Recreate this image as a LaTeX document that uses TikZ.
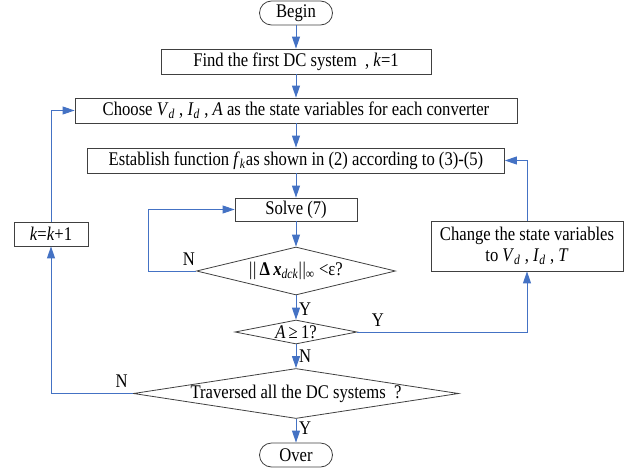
\documentclass[tikz,border=0pt]{standalone}
\usepackage{fontspec}
\setmainfont{Liberation Serif}[FakeStretch=0.86]
\usetikzlibrary{positioning, shapes.geometric, arrows.meta}
\usepackage{xcolor}
\definecolor{flowblue}{HTML}{4472C4}
\definecolor{flowgray}{HTML}{404040}

\begin{document}
\begin{tikzpicture}[x=0.75pt, y=-0.75pt, font=\fontsize{14.5}{16}\selectfont,
    box/.style={draw=flowgray, line width=0.6pt, inner sep=0pt, align=center},
    term/.style={box, rounded corners=9pt, minimum width=54.75pt, minimum height=18pt},
    decide/.style={draw=flowgray, line width=0.6pt, diamond, inner sep=0pt},
    flow/.style={flowblue, line width=0.7pt, -{Triangle[length=9pt, width=6pt]}},
    lab/.style={text=black, inner sep=2pt}]
  \useasboundingbox (0,0) rectangle (638,471);
  % main column
  \node[term] (begin) at (296,13) {Begin};
  \node[box, minimum width=202.5pt, minimum height=18.75pt] (find) at (296,61.5)
    {Find the first DC system\ \ , \textit{k}=1};
  \node[box, minimum width=331.5pt, minimum height=18.75pt] (choose) at (296,110.5)
    {Choose \textit{V}\textsubscript{\textit{d}} , \textit{I}\textsubscript{\textit{d}} , \textit{A} as the state variables for each converter};
  \node[box, minimum width=312.75pt, minimum height=18.75pt] (establish) at (296,160.5)
    {Establish function \textit{f}\textsubscript{\textit{k}}as shown in (2) according to (3)-(5)};
  \node[box, minimum width=91.5pt, minimum height=17.25pt] (solve) at (296,209.5) {Solve (7)};
  \node[decide, aspect=4.15, minimum width=149.25pt, minimum height=36pt] (conv) at (296,271)
    {\textbar\kern0.5pt\textbar\,\textbf{Δ}\,\textbf{\textit{x}}\textsubscript{\textit{dck}}\textbar\kern0.5pt\textbar\textsubscript{∞}\ <ε?};
  \node[decide, aspect=5.1, minimum width=91.5pt, minimum height=18pt] (alim) at (296,332)
    {\textit{A}\,≥\,1?};
  \node[decide, aspect=6.5, minimum width=237.75pt, minimum height=36.75pt] (trav) at (296,393.5)
    {Traversed all the DC systems\ \ ?};
  \node[term] (over) at (296,455) {Over};
  % side boxes
  \node[box, minimum width=55.5pt, minimum height=18pt] (knext) at (51,234)
    {\textit{k}=\textit{k}+1};
  \node[box, minimum width=144pt, minimum height=37.5pt] (change) at (527,246)
    {Change the state variables\\to \textit{V}\textsubscript{\textit{d}} , \textit{I}\textsubscript{\textit{d}} , \textit{T}};
  % connectors
  \draw[flow] (begin) -- (find);
  \draw[flow] (find) -- (choose);
  \draw[flow] (choose) -- (establish);
  \draw[flow] (establish) -- (solve);
  \draw[flow] (solve) -- (conv);
  \draw[flow] (conv) -- node[lab, right, pos=0.55] {Y} (alim);
  \draw[flow] (alim) -- node[lab, right, pos=0.5] {N} (trav);
  \draw[flow] (trav) -- node[lab, right, pos=0.4] {Y} (over);
  % loops
  \draw[flow] (conv.west) -- node[lab, above, pos=0.15, yshift=2pt] {N} ++(-47.6,0) |- (solve.west);
  \draw[flow] (alim.east) -| node[lab, above, pos=0.06, yshift=2pt] {Y} (change.south);
  \draw[flow] (change.north) |- (establish.east);
  \draw[flow] (trav.west) -| node[lab, above, pos=0.07, yshift=2pt] {N} (knext.south);
  \draw[flow] (knext.north) |- (choose.west);
\end{tikzpicture}
\end{document}
